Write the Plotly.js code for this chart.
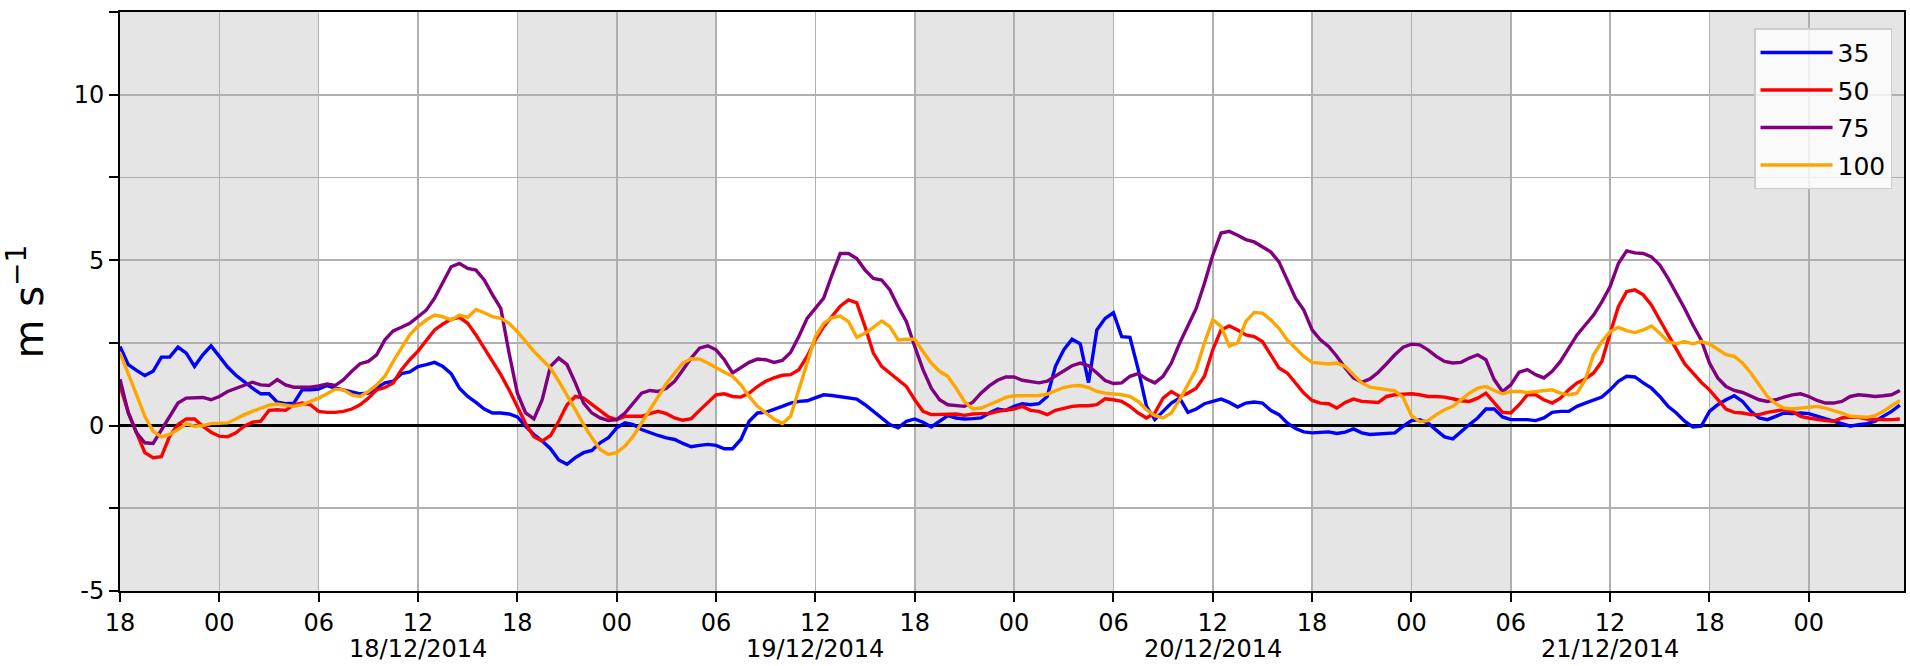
<!DOCTYPE html>
<html><head><meta charset="utf-8">
<script src="https://cdn.plot.ly/plotly-3.0.1.min.js"></script>
<style>html,body{margin:0;padding:0;background:#fff}#chart{width:1910px;height:666px}</style>
</head><body><div id="chart"></div>
<script>
// ---- data (30-minute samples starting 17/12/2014 18:00) ----
const startUTC = Date.UTC(2014, 11, 17, 18, 0);
const stepMinutes = 30;

const seriesNames = ['35', '50', '75', '100'];

const v35 = [2.39,1.84,1.67,1.51,1.64,2.07,2.07,2.37,2.19,1.79,2.14,2.41,2.09,1.77,1.52,1.31,1.13,0.96,0.96,0.71,0.66,0.68,1.08,1.08,1.10,1.21,1.13,1.08,1.03,0.96,0.98,1.13,1.29,1.34,1.57,1.62,1.78,
1.84,1.91,1.79,1.57,1.13,0.88,0.70,0.50,0.38,0.38,0.35,0.26,-0.02,-0.27,-0.47,-0.70,-1.04,-1.17,-0.97,-0.82,-0.75,-0.52,-0.37,-0.07,0.08,0.03,-0.12,-0.22,-0.30,-0.37,-0.42,-0.54,-0.64,-0.60,-0.57,-0.60,-0.70,
-0.70,-0.42,0.13,0.38,0.40,0.48,0.58,0.68,0.73,0.75,0.83,0.93,0.91,0.88,0.85,0.80,0.63,0.43,0.20,0.03,-0.07,0.13,0.20,0.10,-0.04,0.13,0.30,0.23,0.20,0.21,0.23,0.38,0.50,0.46,0.58,0.66,
0.63,0.66,0.88,1.79,2.29,2.61,2.47,1.30,2.89,3.24,3.41,2.69,2.67,1.69,0.58,0.18,0.43,0.68,0.83,0.40,0.50,0.66,0.73,0.80,0.70,0.56,0.68,0.71,0.68,0.46,0.33,0.08,-0.09,-0.19,-0.22,-0.20,
-0.19,-0.24,-0.20,-0.10,-0.22,-0.27,-0.25,-0.24,-0.22,-0.02,0.15,0.18,0.08,-0.14,-0.34,-0.40,-0.17,0.03,0.23,0.50,0.50,0.26,0.18,0.18,0.18,0.15,0.23,0.40,0.43,0.43,0.58,0.68,0.78,0.86,1.08,1.34,
1.49,1.47,1.29,1.13,0.88,0.58,0.38,0.13,-0.04,-0.02,0.43,0.63,0.78,0.90,0.73,0.43,0.23,0.18,0.28,0.38,0.36,0.38,0.36,0.28,0.20,0.13,0.06,-0.02,0.03,0.06,0.13,0.28,0.43,0.62];

const v50 = [1.20,0.40,-0.22,-0.82,-0.97,-0.94,-0.32,0.03,0.20,0.20,-0.02,-0.20,-0.32,-0.34,-0.22,-0.02,0.10,0.13,0.46,0.48,0.46,0.63,0.68,0.63,0.43,0.40,0.40,0.43,0.50,0.63,0.83,1.08,1.15,1.29,1.69,1.99,2.25,
2.57,2.89,3.07,3.21,3.27,3.09,2.74,2.34,1.94,1.54,1.08,0.58,0.06,-0.34,-0.47,-0.30,0.13,0.63,0.88,0.83,0.63,0.43,0.26,0.18,0.28,0.28,0.28,0.36,0.43,0.36,0.23,0.16,0.21,0.46,0.70,0.93,0.96,
0.88,0.86,0.98,1.18,1.34,1.44,1.52,1.54,1.69,2.09,2.59,2.99,3.29,3.61,3.80,3.71,2.99,2.19,1.79,1.59,1.41,1.18,0.78,0.43,0.33,0.33,0.33,0.35,0.31,0.35,0.36,0.36,0.43,0.46,0.50,0.58,
0.46,0.43,0.33,0.46,0.53,0.58,0.60,0.60,0.63,0.81,0.78,0.73,0.58,0.38,0.23,0.38,0.83,1.03,0.88,0.98,1.13,1.49,2.29,2.89,3.01,2.89,2.74,2.69,2.54,2.14,1.74,1.59,1.29,0.98,0.76,0.68,
0.66,0.53,0.70,0.80,0.73,0.71,0.70,0.88,0.93,0.95,0.96,0.93,0.88,0.88,0.86,0.81,0.75,0.73,0.83,0.98,0.68,0.40,0.38,0.63,0.93,0.93,0.78,0.68,0.83,1.08,1.29,1.41,1.59,1.94,2.79,3.59,
4.05,4.10,3.95,3.64,3.19,2.74,2.29,1.87,1.59,1.31,1.08,0.78,0.50,0.40,0.38,0.33,0.33,0.40,0.43,0.48,0.43,0.28,0.23,0.18,0.15,0.13,0.23,0.26,0.25,0.20,0.18,0.18,0.18,0.20];

const v75 = [1.40,0.38,-0.22,-0.52,-0.54,-0.12,0.28,0.68,0.83,0.85,0.85,0.78,0.88,1.03,1.13,1.21,1.31,1.23,1.21,1.39,1.23,1.16,1.16,1.16,1.20,1.26,1.21,1.39,1.64,1.87,1.94,2.14,2.59,2.86,2.97,3.09,3.29,
3.49,3.85,4.35,4.80,4.90,4.75,4.70,4.40,3.95,3.54,2.19,0.98,0.38,0.20,0.78,1.79,2.04,1.84,1.29,0.68,0.38,0.23,0.15,0.18,0.38,0.68,0.98,1.06,1.03,1.13,1.34,1.69,2.04,2.34,2.41,2.29,1.99,
1.59,1.74,1.91,2.01,1.99,1.91,1.97,2.21,2.69,3.24,3.54,3.85,4.55,5.20,5.20,5.05,4.70,4.45,4.40,4.10,3.59,3.14,2.39,1.69,1.13,0.78,0.63,0.60,0.58,0.70,0.98,1.20,1.37,1.47,1.47,1.37,
1.34,1.29,1.34,1.49,1.67,1.81,1.89,1.81,1.59,1.36,1.27,1.29,1.49,1.57,1.41,1.29,1.49,1.89,2.49,2.99,3.54,4.30,5.15,5.82,5.87,5.75,5.62,5.55,5.40,5.25,4.95,4.40,3.85,3.49,2.89,2.59,
2.39,2.09,1.74,1.44,1.31,1.41,1.61,1.87,2.14,2.37,2.46,2.44,2.29,2.09,1.94,1.89,1.91,2.04,2.14,1.99,1.39,1.03,1.23,1.61,1.69,1.54,1.44,1.64,1.94,2.34,2.74,3.04,3.34,3.74,4.20,4.90,
5.28,5.22,5.20,5.10,4.85,4.45,4.02,3.54,3.04,2.59,1.89,1.44,1.18,1.06,1.00,0.88,0.78,0.73,0.78,0.86,0.93,0.96,0.88,0.76,0.68,0.68,0.73,0.88,0.93,0.91,0.88,0.90,0.93,1.06];

const v100 = [2.20,1.59,0.93,0.28,-0.17,-0.34,-0.27,-0.12,0.06,-0.02,0.00,0.06,0.06,0.08,0.20,0.33,0.43,0.53,0.62,0.65,0.62,0.58,0.63,0.73,0.83,0.96,1.10,1.08,0.93,0.88,1.03,1.23,1.49,1.94,2.34,2.74,3.00,
3.19,3.34,3.29,3.19,3.34,3.27,3.51,3.41,3.29,3.24,3.09,2.84,2.54,2.24,1.99,1.74,1.34,0.93,0.48,0.03,-0.37,-0.72,-0.87,-0.82,-0.62,-0.32,0.08,0.48,0.88,1.27,1.59,1.89,2.02,2.01,1.89,1.74,1.61,
1.49,1.23,0.88,0.58,0.38,0.20,0.06,0.28,1.08,1.89,2.69,3.09,3.26,3.31,3.14,2.67,2.79,2.97,3.16,2.99,2.59,2.61,2.61,2.24,1.89,1.64,1.49,1.13,0.73,0.50,0.53,0.63,0.75,0.85,0.90,0.90,
0.90,0.91,0.95,1.06,1.15,1.20,1.21,1.15,1.03,0.98,0.96,0.93,0.88,0.73,0.48,0.30,0.23,0.38,0.78,1.23,1.70,2.50,3.20,3.00,2.40,2.50,3.15,3.42,3.40,3.20,2.94,2.59,2.34,2.09,1.91,1.89,
1.86,1.89,1.79,1.54,1.29,1.16,1.12,1.10,1.05,0.85,0.30,0.12,0.15,0.33,0.48,0.58,0.78,0.98,1.13,1.18,1.06,0.96,1.03,1.03,1.00,1.03,1.06,1.08,0.98,0.93,0.98,1.39,2.14,2.54,2.84,2.97,
2.87,2.81,2.89,3.01,2.79,2.54,2.47,2.54,2.47,2.54,2.47,2.29,2.14,2.09,1.89,1.59,1.23,0.88,0.66,0.53,0.50,0.53,0.56,0.58,0.53,0.46,0.38,0.28,0.26,0.25,0.30,0.43,0.60,0.75];

const hourLabels = ['18','00','06','12','18','00','06','12','18','00','06','12','18','00','06','12','18','00'];
const dayLabels = ['18/12/2014', '19/12/2014', '20/12/2014', '21/12/2014'];
const dayLabelHours = [18, 42, 66, 90];   // noon of each day, hours after start
const yTickValues = [-5, 0, 5, 10];
const yTickLabels = ['-5', '0', '5', '10'];
const yMinorTickValues = [-2.5, 2.5, 7.5, 12.5];
// night periods (18:00 -> 06:00), hours after start
const nightStartHours = [0, 24, 48, 72, 96];
const nightLengthHours = 12;
const rangeEndHours = 107.75;

// ---- build ----
const fmt = ms => new Date(ms).toISOString().slice(0, 19).replace('T', ' ');
const atHours = h => fmt(startUTC + h * 3600000);
const times = v35.map((_, i) => fmt(startUTC + i * stepMinutes * 60000));
const tickVals = hourLabels.map((_, i) => atHours(i * 6));

const colors = ['#0000ff', '#ff0000', '#800080', '#ffa500'];
const allSeries = [v35, v50, v75, v100];
const traces = allSeries.map((vals, i) => ({
  x: times, y: vals, type: 'scatter', mode: 'lines', name: seriesNames[i],
  legendgroup: 'g' + i,
  line: {color: colors[i], width: 3.4}
}));

const shapes = nightStartHours.map(h => ({
  type: 'rect', xref: 'x', yref: 'paper',
  x0: atHours(h), x1: atHours(Math.min(h + nightLengthHours, rangeEndHours)),
  y0: 0, y1: 1, fillcolor: '#e5e5e5', line: {width: 0}, layer: 'below'
}));

const fam = 'DejaVu Sans, sans-serif';
const font = {family: fam, size: 24, color: '#000'};

const annotations = dayLabels.map((t, i) => ({
  text: t, x: atHours(dayLabelHours[i]), xref: 'x', y: -0.1, yref: 'paper',
  xanchor: 'center', yanchor: 'middle', showarrow: false, font: font
}));

const layout = {
  width: 1910, height: 666,
  margin: {l: 120, r: 6, t: 12, b: 75},
  paper_bgcolor: '#fff', plot_bgcolor: '#fff',
  font: font,
  showlegend: true,
  legend: {
    x: 0.9933, y: 0.972, xanchor: 'right', yanchor: 'top',
    bgcolor: 'rgba(255,255,255,0.8)', bordercolor: '#cccccc', borderwidth: 1.5,
    font: {family: fam, size: 25, color: '#000'},
    itemwidth: 72, traceorder: 'grouped', tracegroupgap: 2
  },
  xaxis: {
    type: 'date', range: [atHours(0), atHours(rangeEndHours)],
    tickmode: 'array', tickvals: tickVals, ticktext: hourLabels,
    ticks: 'outside', ticklen: 9, tickwidth: 2, tickcolor: '#000',
    showline: true, linecolor: '#000', linewidth: 2, mirror: true,
    showgrid: true, gridcolor: '#b0b0b0', gridwidth: 1.6,
    zeroline: false, tickfont: font, automargin: false
  },
  yaxis: {
    range: [-5, 12.5],
    tickmode: 'array', tickvals: yTickValues, ticktext: yTickLabels,
    ticks: 'outside', ticklen: 9, tickwidth: 2, tickcolor: '#000',
    minor: {tickmode: 'array', tickvals: yMinorTickValues, ticks: 'outside', ticklen: 9, tickwidth: 2, tickcolor: '#000',
            showgrid: true, gridcolor: '#b0b0b0', gridwidth: 1.6},
    showline: true, linecolor: '#000', linewidth: 2, mirror: true,
    showgrid: true, gridcolor: '#b0b0b0', gridwidth: 1.6,
    zeroline: true, zerolinecolor: '#000', zerolinewidth: 3.5,
    tickfont: font, automargin: false,
    title: {text: 'm s<sup>\u22121</sup>', font: {family: fam, size: 40, color: '#000'}, standoff: 18}
  },
  annotations: annotations,
  shapes: shapes
};

Plotly.newPlot('chart', traces, layout, {displayModeBar: false, staticPlot: true});
</script>
</body></html>
